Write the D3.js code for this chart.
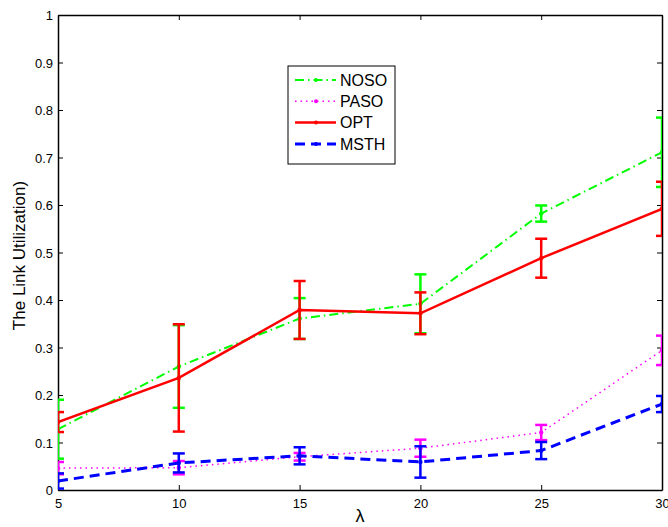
<!DOCTYPE html>
<html><head><meta charset="utf-8">
<script src="https://cdn.jsdelivr.net/npm/d3@7"></script>
<style>body{margin:0;background:#fff}svg{display:block}text{font-family:"Liberation Sans",Arial,sans-serif;fill:#000}</style>
</head><body><svg id="c" width="668" height="527"></svg>
<script>
const lambdas = [5, 10, 15, 20, 25, 30];
const yTicks = [0, 0.1, 0.2, 0.3, 0.4, 0.5, 0.6, 0.7, 0.8, 0.9, 1];
const seriesNames = ["NOSO", "PASO", "OPT", "MSTH"];
const nosoMean = [0.128, 0.26, 0.361, 0.392, 0.582, 0.711];
const nosoErr  = [0.062, 0.087, 0.043, 0.062, 0.017, 0.073];
const pasoMean = [0.046, 0.047, 0.070, 0.088, 0.121, 0.294];
const pasoErr  = [0.013, 0.014, 0.008, 0.018, 0.016, 0.031];
const optMean  = [0.143, 0.236, 0.379, 0.372, 0.488, 0.592];
const optErr   = [0.021, 0.113, 0.061, 0.044, 0.041, 0.057];
const msthMean = [0.019, 0.057, 0.072, 0.059, 0.083, 0.181];
const msthErr  = [0.016, 0.020, 0.018, 0.033, 0.018, 0.017];

const styles = {
  NOSO: {color: "#00ff00", width: 2, dash: "9,4,1.5,4", mean: nosoMean, err: nosoErr},
  PASO: {color: "#ff00ff", width: 1.5, dash: "1.5,4", mean: pasoMean, err: pasoErr},
  OPT:  {color: "#ff0000", width: 2.5, dash: null, mean: optMean, err: optErr},
  MSTH: {color: "#0000ff", width: 3, dash: "10,6", mean: msthMean, err: msthErr}
};

const svg = d3.select("#c");
const L = 58, R = 662, T = 15, B = 490;
const x = d3.scaleLinear().domain([5, 30]).range([L, R]);
const y = d3.scaleLinear().domain([0, 1]).range([B, T]);

svg.append("defs").append("clipPath").attr("id", "clip")
  .append("rect").attr("x", L).attr("y", T).attr("width", R - L).attr("height", B - T);

// axes
const fmt = d => d === 0 ? "0" : d === 1 ? "1" : d3.format(".1f")(d);
const axB = svg.append("g").attr("transform", `translate(0,${B})`)
  .call(d3.axisBottom(x).tickValues(lambdas).tickSizeInner(-5).tickSizeOuter(0).tickPadding(9));
const axL = svg.append("g").attr("transform", `translate(${L},0)`)
  .call(d3.axisLeft(y).tickValues(yTicks).tickFormat(fmt).tickSizeInner(-5).tickSizeOuter(0).tickPadding(5));
const axT = svg.append("g").attr("transform", `translate(0,${T})`)
  .call(d3.axisTop(x).tickValues(lambdas).tickSizeInner(-5).tickSizeOuter(0).tickFormat(""));
const axR = svg.append("g").attr("transform", `translate(${R},0)`)
  .call(d3.axisRight(y).tickValues(yTicks).tickSizeInner(-5).tickSizeOuter(0).tickFormat(""));
[axB, axL, axT, axR].forEach(g => {
  g.select(".domain").attr("stroke", "#000").attr("stroke-width", 1.5);
  g.selectAll(".tick line").attr("stroke", "#000").attr("stroke-width", 1);
  g.selectAll(".tick text").style("font-size", "13px").attr("fill", "#000");
});
axL.selectAll(".tick text").attr("dy", "0.35em");

// series
const plot = svg.append("g").attr("clip-path", "url(#clip)");
seriesNames.forEach(name => {
  const s = styles[name];
  const pts = lambdas.map((l, i) => ({l, m: s.mean[i], e: s.err[i]}));
  const g = plot.append("g");
  pts.forEach(p => {
    const xc = x(p.l), y1 = y(p.m + p.e), y0 = y(p.m - p.e);
    g.append("line").attr("x1", xc).attr("x2", xc).attr("y1", y1).attr("y2", y0)
      .attr("stroke", s.color).attr("stroke-width", 2.5);
    [y1, y0].forEach(yy => g.append("line").attr("x1", xc - 6).attr("x2", xc + 6)
      .attr("y1", yy).attr("y2", yy).attr("stroke", s.color).attr("stroke-width", 2.5));
  });
  g.append("path").datum(pts)
    .attr("d", d3.line().x(p => x(p.l)).y(p => y(p.m)))
    .attr("fill", "none").attr("stroke", s.color).attr("stroke-width", s.width)
    .attr("stroke-dasharray", s.dash);
  g.selectAll("circle").data(pts).join("circle")
    .attr("cx", p => x(p.l)).attr("cy", p => y(p.m)).attr("r", 2.2).attr("fill", s.color);
});

// legend
const lg = svg.append("g");
lg.append("rect").attr("x", 288).attr("y", 66).attr("width", 107).attr("height", 98)
  .attr("fill", "#fff").attr("stroke", "#000").attr("stroke-width", 1);
seriesNames.forEach((name, i) => {
  const s = styles[name];
  const yy = 80 + i * 21.3;
  lg.append("line").attr("x1", 295).attr("x2", 336).attr("y1", yy).attr("y2", yy)
    .attr("stroke", s.color).attr("stroke-width", s.width).attr("stroke-dasharray", s.dash);
  lg.append("circle").attr("cx", 316).attr("cy", yy).attr("r", 2).attr("fill", s.color);
  lg.append("text").attr("x", 340).attr("y", yy).attr("dy", "0.36em")
    .style("font-size", "16px").text(name);
});

// labels
svg.append("text").attr("transform", `translate(25,${(T + B) / 2 + 3}) rotate(-90)`)
  .attr("text-anchor", "middle").style("font-size", "17px").text("The Link Utilization)");
svg.append("text").attr("x", 360).attr("y", 522).attr("text-anchor", "middle")
  .style("font-size", "18px").text("λ");
</script></body></html>
